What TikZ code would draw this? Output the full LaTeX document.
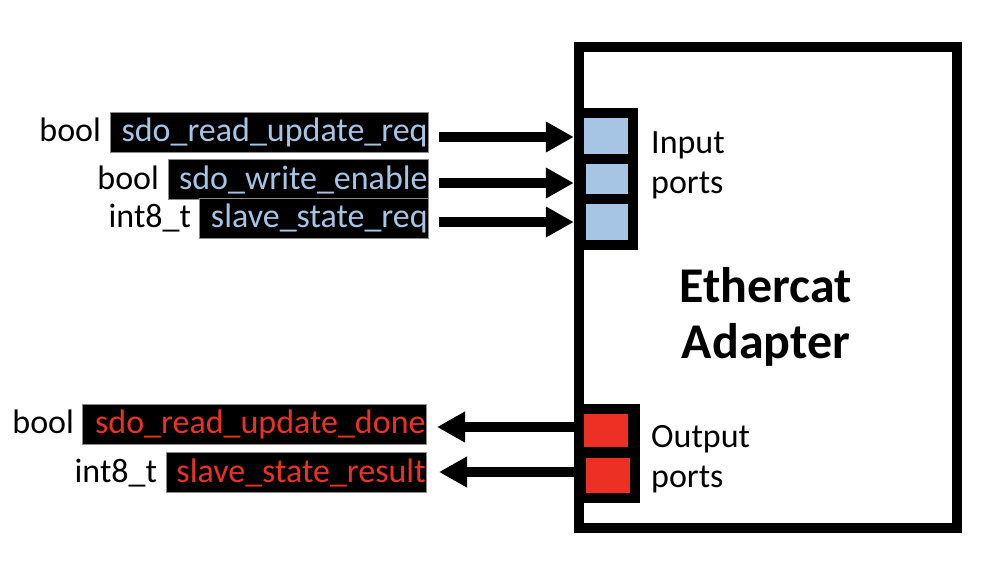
\documentclass[tikz,border=0pt]{standalone}
\usepackage{fontspec}
\setmainfont{Carlito}
\usetikzlibrary{arrows.meta}
\definecolor{portblue}{HTML}{A6C4E4}
\definecolor{portred}{HTML}{EC3124}
\definecolor{labgray}{HTML}{8A8A8A}
\begin{document}
\begin{tikzpicture}[x=1pt,y=-1pt,
  txt/.style={inner sep=0pt, font=\fontsize{34}{40}\selectfont},
  lab/.style={rectangle, fill=black, draw=labgray, line width=0.8pt, inner xsep=1pt, inner ysep=0pt,
    minimum height=40pt, align=right, anchor=east, font=\fontsize{34}{40}\selectfont},
  typ/.style={txt, anchor=base east},
  side/.style={txt, anchor=base west},
  titletxt/.style={inner sep=0pt, anchor=base, font=\bfseries\fontsize{50}{56}\selectfont},
  arr/.style={line width=10pt, -{Triangle[length=28pt,width=29pt]}},
  grp/.style={rectangle, fill=black, draw=none, inner sep=0pt},
  incell/.style={rectangle, fill=portblue, draw=none, inner sep=0pt},
  outcell/.style={rectangle, fill=portred, draw=none, inner sep=0pt}]
\useasboundingbox (0,0) rectangle (982,560);
% main box
\draw[line width=10pt] (579,47) rectangle (957,528);
\node[inner sep=0pt, minimum width=388pt, minimum height=491pt] (box) at (768,287.5) {};
% input group
\node[grp, minimum width=64pt, minimum height=142pt] (ingrp) at (606,179) {};
\node[incell, minimum width=44pt, minimum height=36pt] (in1) at (606,136) {};
\node[incell, minimum width=42pt, minimum height=30pt] (in2) at (607,179) {};
\node[incell, minimum width=42pt, minimum height=36pt] (in3) at (607,222) {};
% output group
\node[grp, minimum width=66pt, minimum height=99pt] (outgrp) at (607,453.5) {};
\node[outcell, minimum width=44pt, minimum height=33pt] (out1) at (606,430.5) {};
\node[outcell, minimum width=44pt, minimum height=35pt] (out2) at (608,475.5) {};
% side texts
\node[side] (inA) at (651,153) {Input};
\node[side] (inB) at (651,193) {ports};
\node[side] (outA) at (651,447) {Output};
\node[side] (outB) at (651,487) {ports};
% title
\node[titletxt] (ttl1) at (766,302) {Ethercat};
\node[titletxt] (ttl2) at (766,358) {Adapter};
% input labels
\node[lab, text width=316pt, text=portblue] (l1) at (429,132) {sdo\_read\_update\_req};
\node[lab, text width=258pt, text=portblue] (l2) at (429,179.5) {sdo\_write\_enable};
\node[lab, text width=227pt, text=portblue] (l3) at (429,218.5) {slave\_state\_req};
\node[typ] (ty1) at ([xshift=-9pt]l1.base west) {bool};
\node[typ] (ty2) at ([xshift=-9pt]l2.base west) {bool};
\node[typ] (ty3) at ([xshift=-8pt]l3.base west) {int8\_t};
% output labels
\node[lab, text width=342pt, text=portred] (o1) at (427,424.5) {sdo\_read\_update\_done};
\node[lab, text width=258pt, text=portred] (o2) at (427,472.5) {slave\_state\_result};
\node[typ] (tyo1) at ([xshift=-8pt]o1.base west) {bool};
\node[typ] (tyo2) at ([xshift=-9pt]o2.base west) {int8\_t};
% arrows
\draw[arr] ([xshift=10pt]l1.east |- 0,137) -- (ingrp.west |- 0,137);
\draw[arr] ([xshift=10pt]l2.east |- 0,183) -- (ingrp.west |- 0,183);
\draw[arr] ([xshift=10pt]l3.east |- 0,222) -- (ingrp.west |- 0,222);
\draw[arr] (outgrp.west |- 0,427) -- ([xshift=10pt]o1.east |- 0,427);
\draw[arr] (outgrp.west |- 0,472) -- ([xshift=12pt]o2.east |- 0,472);
\end{tikzpicture}
\end{document}
